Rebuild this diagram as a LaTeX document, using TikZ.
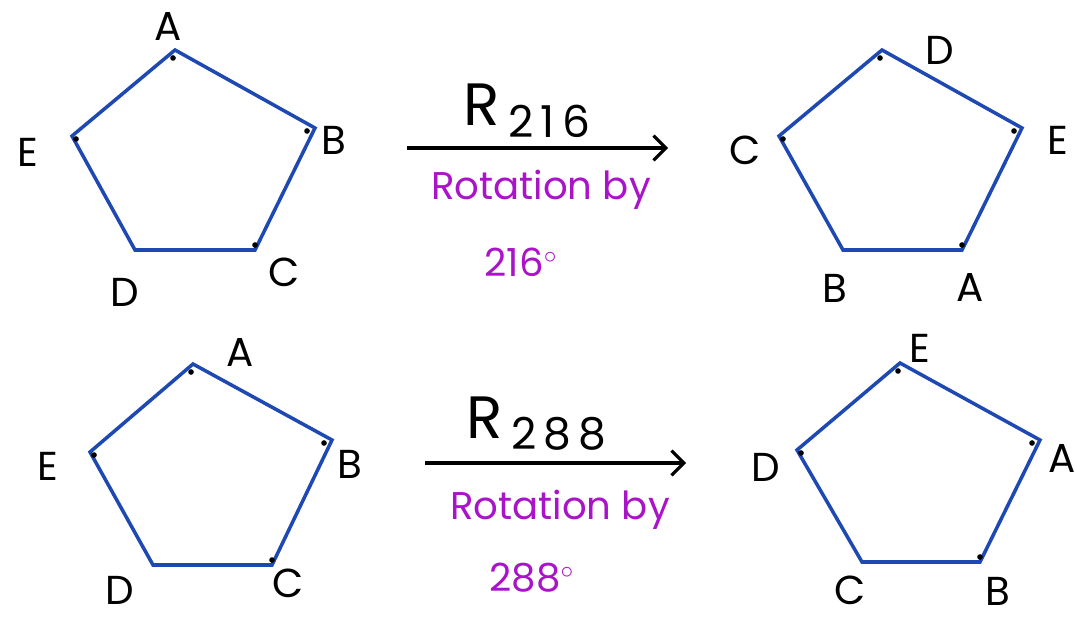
\documentclass[tikz,border=0pt]{standalone}
\usepackage{fontspec}
\setmainfont{Poppins}
\usetikzlibrary{arrows.meta,calc}

\definecolor{penblue}{RGB}{30,72,178}
\definecolor{penpurple}{RGB}{170,20,200}

\begin{document}
\begin{tikzpicture}[
    x=0.02cm, y=-0.02cm,
    side/.style  ={draw=penblue, line width=2pt, line join=miter},
    vlbl/.style  ={font=\fontsize{23}{25}\selectfont, inner sep=0pt},
    tick/.style  ={fill=black, circle, inner sep=0pt, minimum size=3.2pt},
    rname/.style ={font=\fontsize{34}{36}\selectfont, inner sep=0pt},
    rsub/.style  ={font=\fontsize{25}{27}\selectfont, inner sep=0pt},
    note/.style  ={text=penpurple, font=\fontsize{22}{25}\selectfont, inner sep=0pt},
    flow/.style  ={-{Straight Barb[length=7pt,width=14pt]}, line width=1.8pt},
  ]
  \useasboundingbox (0,0) rectangle (1075,618);

  % ------------------------------------------------------ top left pentagon ---
  \coordinate (a1) at (175,50);
  \coordinate (b1) at (315,128);
  \coordinate (c1) at (255,250);
  \coordinate (d1) at (135,250);
  \coordinate (e1) at (72,136);
  \draw[side] (a1) -- (b1) -- (c1) -- (d1) -- (e1) -- cycle;
  \node[vlbl] (la1) at (168,27)  {A};
  \node[vlbl] (lb1) at (334,140) {B};
  \node[vlbl] (lc1) at (284,272) {C};
  \node[vlbl] (ld1) at (125,292) {D};
  \node[vlbl] (le1) at (28,152)  {E};

  % ----------------------------------------------------- top right pentagon ---
  \coordinate (a2) at (962,250);
  \coordinate (b2) at (843,250);
  \coordinate (c2) at (779,136);
  \coordinate (d2) at (882,50);
  \coordinate (e2) at (1022,128);
  \draw[side] (d2) -- (e2) -- (a2) -- (b2) -- (c2) -- cycle;
  \node[vlbl] (la2) at (970,287) {A};
  \node[vlbl] (lb2) at (835,288) {B};
  \node[vlbl] (lc2) at (745,150) {C};
  \node[vlbl] (ld2) at (940,50)  {D};
  \node[vlbl] (le2) at (1058,140){E};

  % --------------------------------------------------- bottom left pentagon ---
  \coordinate (a3) at (193,364);
  \coordinate (b3) at (332,440);
  \coordinate (c3) at (272,565);
  \coordinate (d3) at (153,565);
  \coordinate (e3) at (90,452);
  \draw[side] (a3) -- (b3) -- (c3) -- (d3) -- (e3) -- cycle;
  \node[vlbl] (la3) at (240,352) {A};
  \node[vlbl] (lb3) at (350,464) {B};
  \node[vlbl] (lc3) at (288,583) {C};
  \node[vlbl] (ld3) at (120,590) {D};
  \node[vlbl] (le3) at (48,466)  {E};

  % -------------------------------------------------- bottom right pentagon ---
  \coordinate (a4) at (1040,440);
  \coordinate (b4) at (980,562);
  \coordinate (c4) at (862,562);
  \coordinate (d4) at (797,450);
  \coordinate (e4) at (900,363);
  \draw[side] (e4) -- (a4) -- (b4) -- (c4) -- (d4) -- cycle;
  \node[vlbl] (la4) at (1062,458){A};
  \node[vlbl] (lb4) at (998,591) {B};
  \node[vlbl] (lc4) at (850,590) {C};
  \node[vlbl] (ld4) at (766,467) {D};
  \node[vlbl] (le4) at (920,348) {E};

  % ------------------------------------------------------------ vertex ticks ---
  % top, right, lower right and left corner of every pentagon
  \foreach \t/\r/\s/\l in {a1/b1/c1/e1, d2/e2/a2/c2, a3/b3/c3/e3, e4/a4/b4/d4}{
    \node[tick] at ($(\t)+(-2,8)$) {};
    \node[tick] at ($(\r)+(-8,3)$) {};
    \node[tick] at ($(\s)+(0,-5)$) {};
    \node[tick] at ($(\l)+(4,3)$) {};
  }

  % ------------------------------------------------------------ top rotation ---
  \coordinate (s1) at (407,148);
  \coordinate (t1) at (668,148);
  \draw[flow] (s1) -- (t1);
  \node[rname] (r1)  at (482,105) {R};
  \node[rsub, anchor=west] (n1) at (508,121) {2\,1\,6};
  \node[note] (rot1) at (541,190) {Rotation by};
  \node[note] (deg1) at (521,262) {216$^{\circ}$};

  % --------------------------------------------------------- bottom rotation ---
  \coordinate (s2) at (425,463);
  \coordinate (t2) at (686,463);
  \draw[flow] (s2) -- (t2);
  \node[rname] (r2)  at (485,418) {R};
  \node[rsub, anchor=west] (n2) at (511,434) {2\,8\,8};
  \node[note] (rot2) at (560,510) {Rotation by};
  \node[note] (deg2) at (532,578) {288$^{\circ}$};

\end{tikzpicture}
\end{document}
